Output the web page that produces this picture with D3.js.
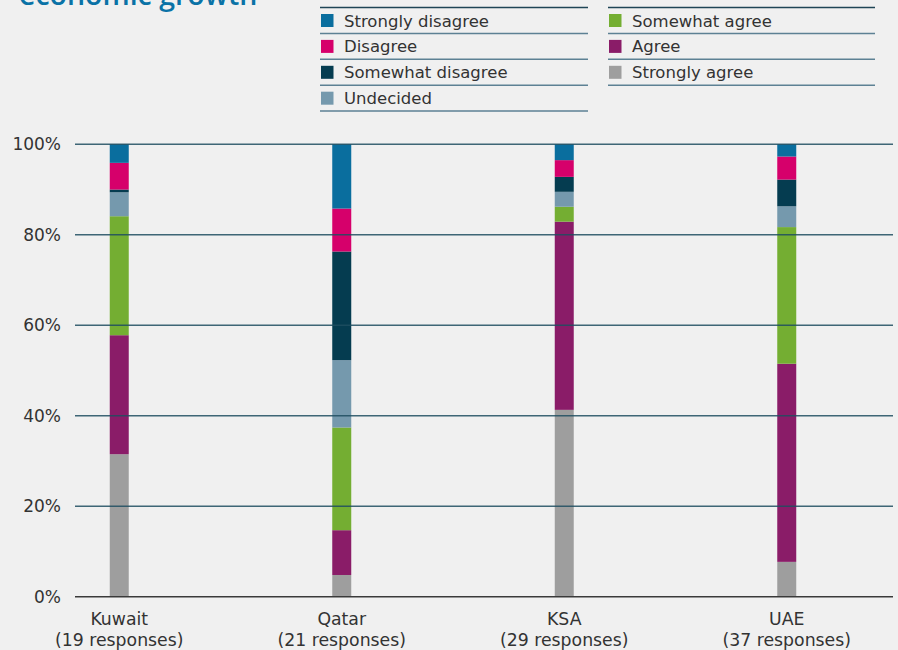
<!DOCTYPE html>
<html><head><meta charset="utf-8">
<script src="https://cdn.jsdelivr.net/npm/d3@7"></script>
<style>
html,body{margin:0;padding:0;background:#f0f0f0;}
svg{display:block;font-family:"DejaVu Sans",sans-serif;}
</style></head>
<body><svg id="c" width="898" height="650"></svg>
<script>
// ---- data ----
const categories = ["Kuwait","Qatar","KSA","UAE"];
const responses = ["(19 responses)","(21 responses)","(29 responses)","(37 responses)"];
const seriesNames = ["Strongly agree","Agree","Somewhat agree","Undecided","Somewhat disagree","Disagree","Strongly disagree"];
const stronglyAgree    = [31.5, 4.8, 41.3, 7.7];
const agree            = [26.3, 9.9, 41.6, 43.8];
const somewhatAgree    = [26.3, 22.7, 3.3, 30.2];
const undecided        = [5.3, 14.9, 3.3, 4.6];
const somewhatDisagree = [0.6, 24.0, 3.3, 5.9];
const disagree         = [5.9, 9.5, 3.7, 5.1];
const stronglyDisagree = [4.1, 14.2, 3.5, 2.7];
const yTicks = [0,20,40,60,80,100];
const legendCol1 = ["Strongly disagree","Disagree","Somewhat disagree","Undecided"];
const legendCol2 = ["Somewhat agree","Agree","Strongly agree"];
const colors = {
  "Strongly disagree":"#0a6e9e",
  "Disagree":"#d6006b",
  "Somewhat disagree":"#053c50",
  "Undecided":"#7599ad",
  "Somewhat agree":"#74ae32",
  "Agree":"#8a1c68",
  "Strongly agree":"#9e9e9e"
};

const seriesValues = [stronglyAgree, agree, somewhatAgree, undecided, somewhatDisagree, disagree, stronglyDisagree];
const table = categories.map((c,i)=>{
  const row = {cat:c};
  seriesNames.forEach((s,j)=>row[s]=seriesValues[j][i]);
  return row;
});

const svg = d3.select("#c");
svg.append("rect").attr("width",898).attr("height",650).attr("fill","#f0f0f0");

// title (cut off at top, as in the original)
svg.append("text").attr("x",19).attr("y",5).attr("fill","#0a72a6")
  .style("font-family","'Open Sans',sans-serif")
  .attr("font-size",28.5).attr("font-weight",600).text("economic growth");

const x = d3.scaleBand().domain(categories).range([8,898]).padding(0);
const y = d3.scaleLinear().domain([0,100]).range([596.7,144.3]);
const barW = 19;

const stack = d3.stack().keys(seriesNames)(table);

const g = svg.append("g");
g.selectAll("g.s").data(stack).join("g").attr("fill",d=>colors[d.key])
  .selectAll("rect").data(d=>d).join("rect")
  .attr("x",d=>x(d.data.cat)+x.bandwidth()/2-barW/2)
  .attr("width",barW)
  .attr("y",d=>y(d[1]))
  .attr("height",d=>y(d[0])-y(d[1]));

// gridlines
const grid = svg.append("g");
grid.selectAll("line").data(yTicks).join("line")
  .attr("x1",75).attr("x2",893)
  .attr("y1",d=>y(d)).attr("y2",d=>y(d))
  .attr("stroke",d=>d===0?"#3a3a3a":"#1f4e60")
  .attr("stroke-opacity",d=>d===0?1:0.85)
  .attr("stroke-width",1.4);

// y labels
svg.append("g").selectAll("text").data(yTicks).join("text")
  .attr("x",61).attr("y",d=>y(d)).attr("dy","0.36em")
  .attr("text-anchor","end").attr("font-size",17).attr("fill","#333")
  .text(d=>d+"%");

// x labels
const xg = svg.append("g").attr("font-size",17.3).attr("fill","#333").attr("text-anchor","middle");
xg.selectAll("text.cat").data(categories).join("text").attr("class","cat")
  .attr("x",d=>x(d)+x.bandwidth()/2).attr("y",625).text(d=>d);
xg.selectAll("text.resp").data(categories).join("text").attr("class","resp")
  .attr("x",d=>x(d)+x.bandwidth()/2).attr("y",645.5).text((d,i)=>responses[i]);

// legend
function legendCol(items, x0, x1){
  const rowH = 25.9, top = 7.5;
  const lg = svg.append("g");
  lg.append("line").attr("x1",x0).attr("x2",x1).attr("y1",top).attr("y2",top)
    .attr("stroke","#1f4556").attr("stroke-width",1.5);
  items.forEach((name,i)=>{
    const yb = top + rowH*(i+1);
    lg.append("line").attr("x1",x0).attr("x2",x1).attr("y1",yb).attr("y2",yb)
      .attr("stroke","#5d8194").attr("stroke-width",1.5);
    lg.append("rect").attr("x",x0+1).attr("y",top+rowH*i+6.5).attr("width",12.5).attr("height",13)
      .attr("fill",colors[name]);
    lg.append("text").attr("x",x0+24).attr("y",top+rowH*i+19)
      .attr("font-size",16.5).attr("fill","#333").text(name);
  });
}
legendCol(legendCol1, 320, 588);
legendCol(legendCol2, 608, 875);
</script></body></html>
